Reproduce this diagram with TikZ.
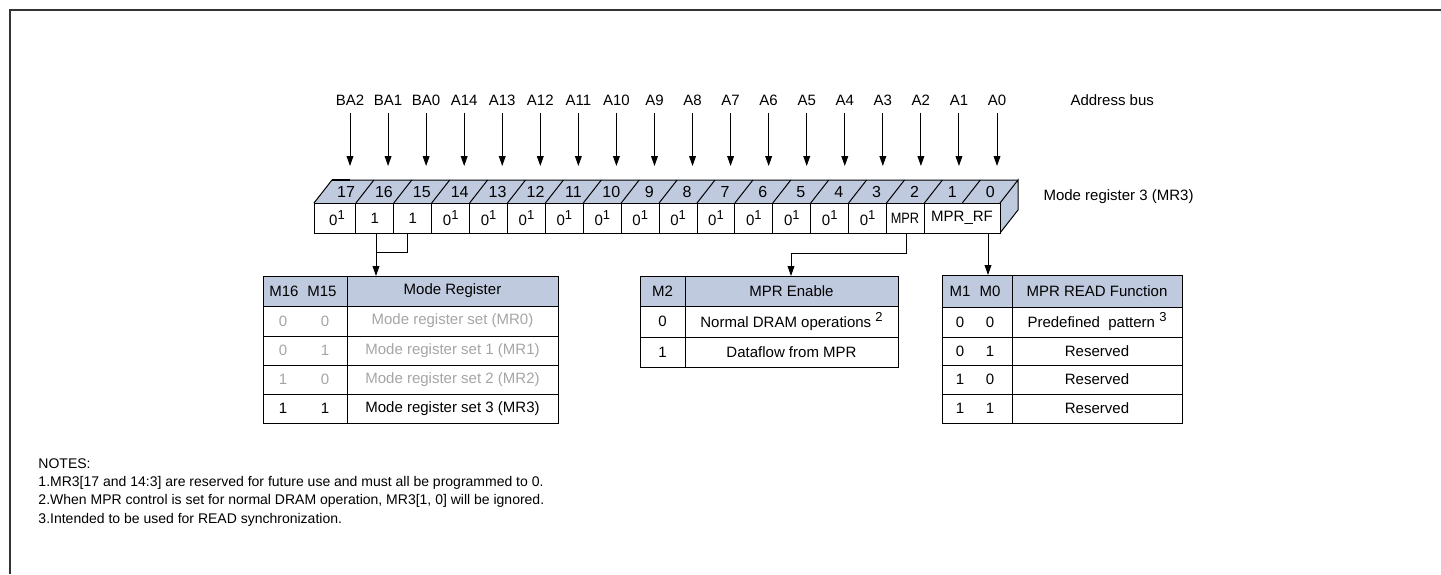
\documentclass[tikz,border=0pt]{standalone}
\usepackage{fontspec}
\setmainfont{Liberation Sans}
\usepackage{tikz}
\usetikzlibrary{arrows.meta}
\usetikzlibrary{calc}

\definecolor{regblue}{RGB}{192,202,222}
\definecolor{offgray}{RGB}{165,165,165}
\newcommand{\zerosup}{0\raisebox{2.6pt}{\fontsize{6.5}{6.5}\selectfont 1}}
\newcommand{\notesup}[1]{\raisebox{3pt}{\fontsize{6.5}{6.5}\selectfont #1}}

\tikzset{
    arr/.style={-{Triangle[length=5pt,width=3.4pt]}},
    lbl/.style={font=\fontsize{7.5}{9}\selectfont, inner sep=0pt},
    bitno/.style={font=\fontsize{8}{9}\selectfont, inner sep=0pt},
    note/.style={font=\fontsize{7}{8}\selectfont, inner sep=0pt, anchor=west},
    tab/.style={draw, line width=0.7pt, anchor=north west, inner sep=0pt},
}

\begin{document}
\begin{tikzpicture}[x=0.5pt,y=-0.5pt,line width=0.5pt]
        \useasboundingbox (0,0) rectangle (1441,574);

        % outer frame
        \draw[line width=1pt,black!80] (10,574) -- (10,10) -- (1441,10);

        % Address bus
        \foreach \name [count=\i from 0] in {BA2,BA1,BA0,A14,A13,A12,A11,A10,A9,A8,A7,A6,A5,A4,A3,A2,A1,A0} {
            \node[lbl] (a\i) at ({350+38.06*\i},100) {\name};
            \coordinate (h\i) at ({350+38.06*\i},166);
            \draw[arr] ([yshift=-3.5pt]a\i.south) -- (h\i);
        }
        \node[lbl,anchor=west] (bus) at (1070,100) {Address bus};

        % Mode register 3
        \fill[regblue] (314,203) -- (332,180) -- (1018,180) -- (1000,203) -- cycle;
        \filldraw[fill=regblue] (1000,203) -- (1018,180) -- (1018,210) -- (1000,233) -- cycle;
        \draw (314,203) -- (332,180) -- (1018,180);
        \draw[line width=1pt] (332,180) -- (350,180);
        \node[draw,fill=white,minimum width=343pt,minimum height=15pt,anchor=north west,inner sep=0pt] (front) at (314,203) {};
        \foreach \k in {1,...,16}
            \draw ({318+37.9*\k},203) -- ++(0,30);
        \foreach \k in {1,...,17}
            \draw ({318+37.9*\k},203) -- ++(18,-23);
        \foreach \b [count=\k from 0] in {17,16,...,0}
            \node[bitno] (n\b) at ({346+37.9*\k},192) {\b};
        \foreach \b [count=\k from 0] in {17,16,...,3}
            \node[lbl] (v\b) at ({337+37.9*\k},218) {\ifnum\b=16 1\else\ifnum\b=15 1\else\zerosup\fi\fi};
        \node[lbl] (v2) at (905,218) {\scalebox{0.85}[1]{MPR}};
        \node[lbl] (v10) at (962,218) {MPR\_RF};
        \node[lbl,anchor=west] (mr3) at (1043,197) {Mode register 3 (MR3)};

        \coordinate (c16) at (376,233);
        \coordinate (c15) at (407,233);
        \coordinate (c2) at (906,233);
        \coordinate (c10) at (988,233);

        % Mode register table
        \fill[regblue] (263,276) rectangle (558,306);
        \node[tab,minimum width=147.5pt,minimum height=73.5pt] (modetab) at (263,276) {};
        \draw (347,276) -- (347,423);
        \foreach \y in {306,336,365,394}
            \draw (263,\y) -- (558,\y);
        \node[lbl] (h16) at (284,291) {M16};
        \node[lbl] (h15) at (322,291) {M15};
        \node[lbl] (hmode) at (452.5,291) {Mode Register};
        \foreach \p/\q/\t/\y/\c [count=\i] in {0/0/Mode register set (MR0)/321/offgray,
                0/1/Mode register set 1 (MR1)/350.5/offgray,
                1/0/Mode register set 2 (MR2)/379.5/offgray,
                1/1/Mode register set 3 (MR3)/408.5/black} {
            \node[lbl,text=\c] (mp\i) at (283,\y) {\p};
            \node[lbl,text=\c] (mq\i) at (325,\y) {\q};
            \node[lbl,text=\c] (mt\i) at (452.5,\y) {\t};
        }

        % MPR enable table
        \fill[regblue] (640,276) rectangle (898,306);
        \node[tab,minimum width=129pt,minimum height=45.5pt] (mprtab) at (640,276) {};
        \draw (685,276) -- (685,367);
        \draw (640,306) -- (898,306);
        \draw (640,337) -- (898,337);
        \node[lbl] (hm2) at (662.5,291) {M2};
        \node[lbl] (hen) at (791.5,291) {MPR Enable};
        \node[lbl] (ep1) at (662.5,321.5) {0};
        \node[lbl] (et1) at (791.5,321.5) {Normal DRAM operations \notesup{2}};
        \node[lbl] (ep2) at (662.5,352) {1};
        \node[lbl] (et2) at (791.5,352) {Dataflow from MPR};

        % MPR READ function table
        \fill[regblue] (942,275) rectangle (1182,307);
        \node[tab,minimum width=120pt,minimum height=74pt] (rftab) at (942,275) {};
        \draw (1012,275) -- (1012,423);
        \foreach \y in {307,337,365,394}
            \draw (942,\y) -- (1182,\y);
        \node[lbl] (h1) at (960,291) {M1};
        \node[lbl] (h0) at (990,291) {M0};
        \node[lbl] (hrf) at (1097,291) {MPR READ Function};
        \foreach \p/\q/\t/\y [count=\i] in {0/0/Predefined\ \ pattern \notesup{3}/322,
                0/1/Reserved/351,
                1/0/Reserved/379.5,
                1/1/Reserved/408.5} {
            \node[lbl] (rp\i) at (960,\y) {\p};
            \node[lbl] (rq\i) at (990,\y) {\q};
            \node[lbl] (rt\i) at (1097,\y) {\t};
        }

        % connectors
        \draw (c15) -- (407,252) -- (376,252);
        \draw[arr] (c16) -- (c16 |- modetab.north);
        \draw[arr] (c2) -- (906,253) -- (791,253) -- (791,276);
        \draw[arr] (c10) -- (c10 |- rftab.north);

        % Notes
        \node[note] (n0) at (38,464) {NOTES:};
        \node[note] (n1) at (38,482.5) {1.MR3[17 and 14:3] are reserved for future use and must all be programmed to 0.};
        \node[note] (n2) at (38,501) {2.When MPR control is set for normal DRAM operation, MR3[1, 0] will be ignored.};
        \node[note] (n3) at (38,519.5) {3.Intended to be used for READ synchronization.};
\end{tikzpicture}
\end{document}
